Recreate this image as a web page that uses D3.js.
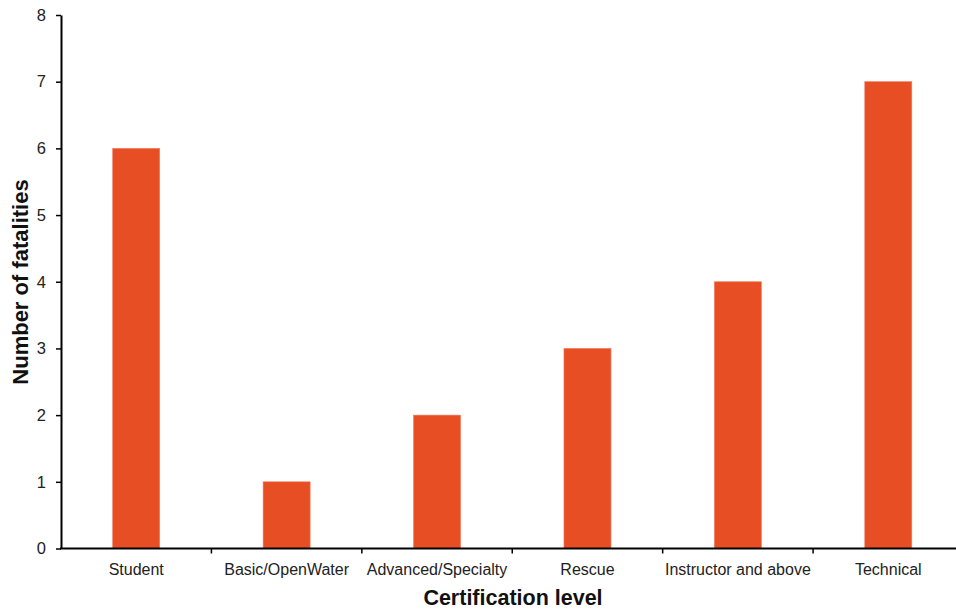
<!DOCTYPE html>
<html><head><meta charset="utf-8">
<script src="https://cdn.jsdelivr.net/npm/d3@7"></script>
<style>body{margin:0;background:#fff}svg{display:block}</style>
</head><body>
<script>
const categories = ["Student","Basic/OpenWater","Advanced/Specialty","Rescue","Instructor and above","Technical"];
const values = [6,1,2,3,4,7];
const yTicks = [0,1,2,3,4,5,6,7,8];

const W=956,H=610;
const svg=d3.select("body").append("svg").attr("width",W).attr("height",H);
const x=d3.scaleBand().domain(categories).range([61,963.5]).padding(0);
const y=d3.scaleLinear().domain([0,8]).range([548.5,15]);
const bw=x.bandwidth()*0.3125;

svg.selectAll("rect.bar").data(values).join("rect")
  .attr("x",(d,i)=>x(categories[i])+(x.bandwidth()-bw)/2)
  .attr("y",d=>y(d)).attr("width",bw).attr("height",d=>y(0)-y(d))
  .attr("fill","#E84E24").attr("stroke","#F07A5A").attr("stroke-width",0.6);

const font="'Liberation Sans', Arial, sans-serif";
// y axis
const ya=svg.append("g").attr("transform","translate(61,0)")
  .call(d3.axisLeft(y).tickValues(yTicks).tickSize(5).tickSizeOuter(0).tickPadding(10));
ya.select(".domain").attr("stroke","#000").attr("stroke-width",2);
ya.selectAll(".tick line").attr("stroke","#000").attr("stroke-width",1.5);
ya.selectAll("text").attr("font-family",font).attr("font-size",16.5).attr("fill","#222");

// x axis
const xa=svg.append("g").attr("transform","translate(0,548.5)")
  .call(d3.axisBottom(x).tickSize(0).tickPadding(0));
xa.select(".domain").remove();
xa.selectAll("text").attr("dy",null).attr("y",26.5).attr("font-family",font).attr("font-size",16).attr("fill","#222");
svg.append("line").attr("x1",60).attr("x2",W).attr("y1",548.5).attr("y2",548.5).attr("stroke","#000").attr("stroke-width",2);
const bounds=categories.slice(1).map(c=>x(c));
svg.selectAll("line.xt").data(bounds).join("line").attr("class","xt")
  .attr("x1",d=>d).attr("x2",d=>d).attr("y1",548.5).attr("y2",553.5)
  .attr("stroke","#000").attr("stroke-width",1.5);

svg.append("text").attr("x",513).attr("y",605).attr("text-anchor","middle")
  .attr("font-family",font).attr("font-weight","bold").attr("font-size",21.5).attr("fill","#111")
  .text("Certification level");
svg.append("text").attr("transform","translate(27.5,282) rotate(-90)").attr("text-anchor","middle")
  .attr("font-family",font).attr("font-weight","bold").attr("font-size",22).attr("fill","#111")
  .text("Number of fatalities");
</script>
</body></html>
